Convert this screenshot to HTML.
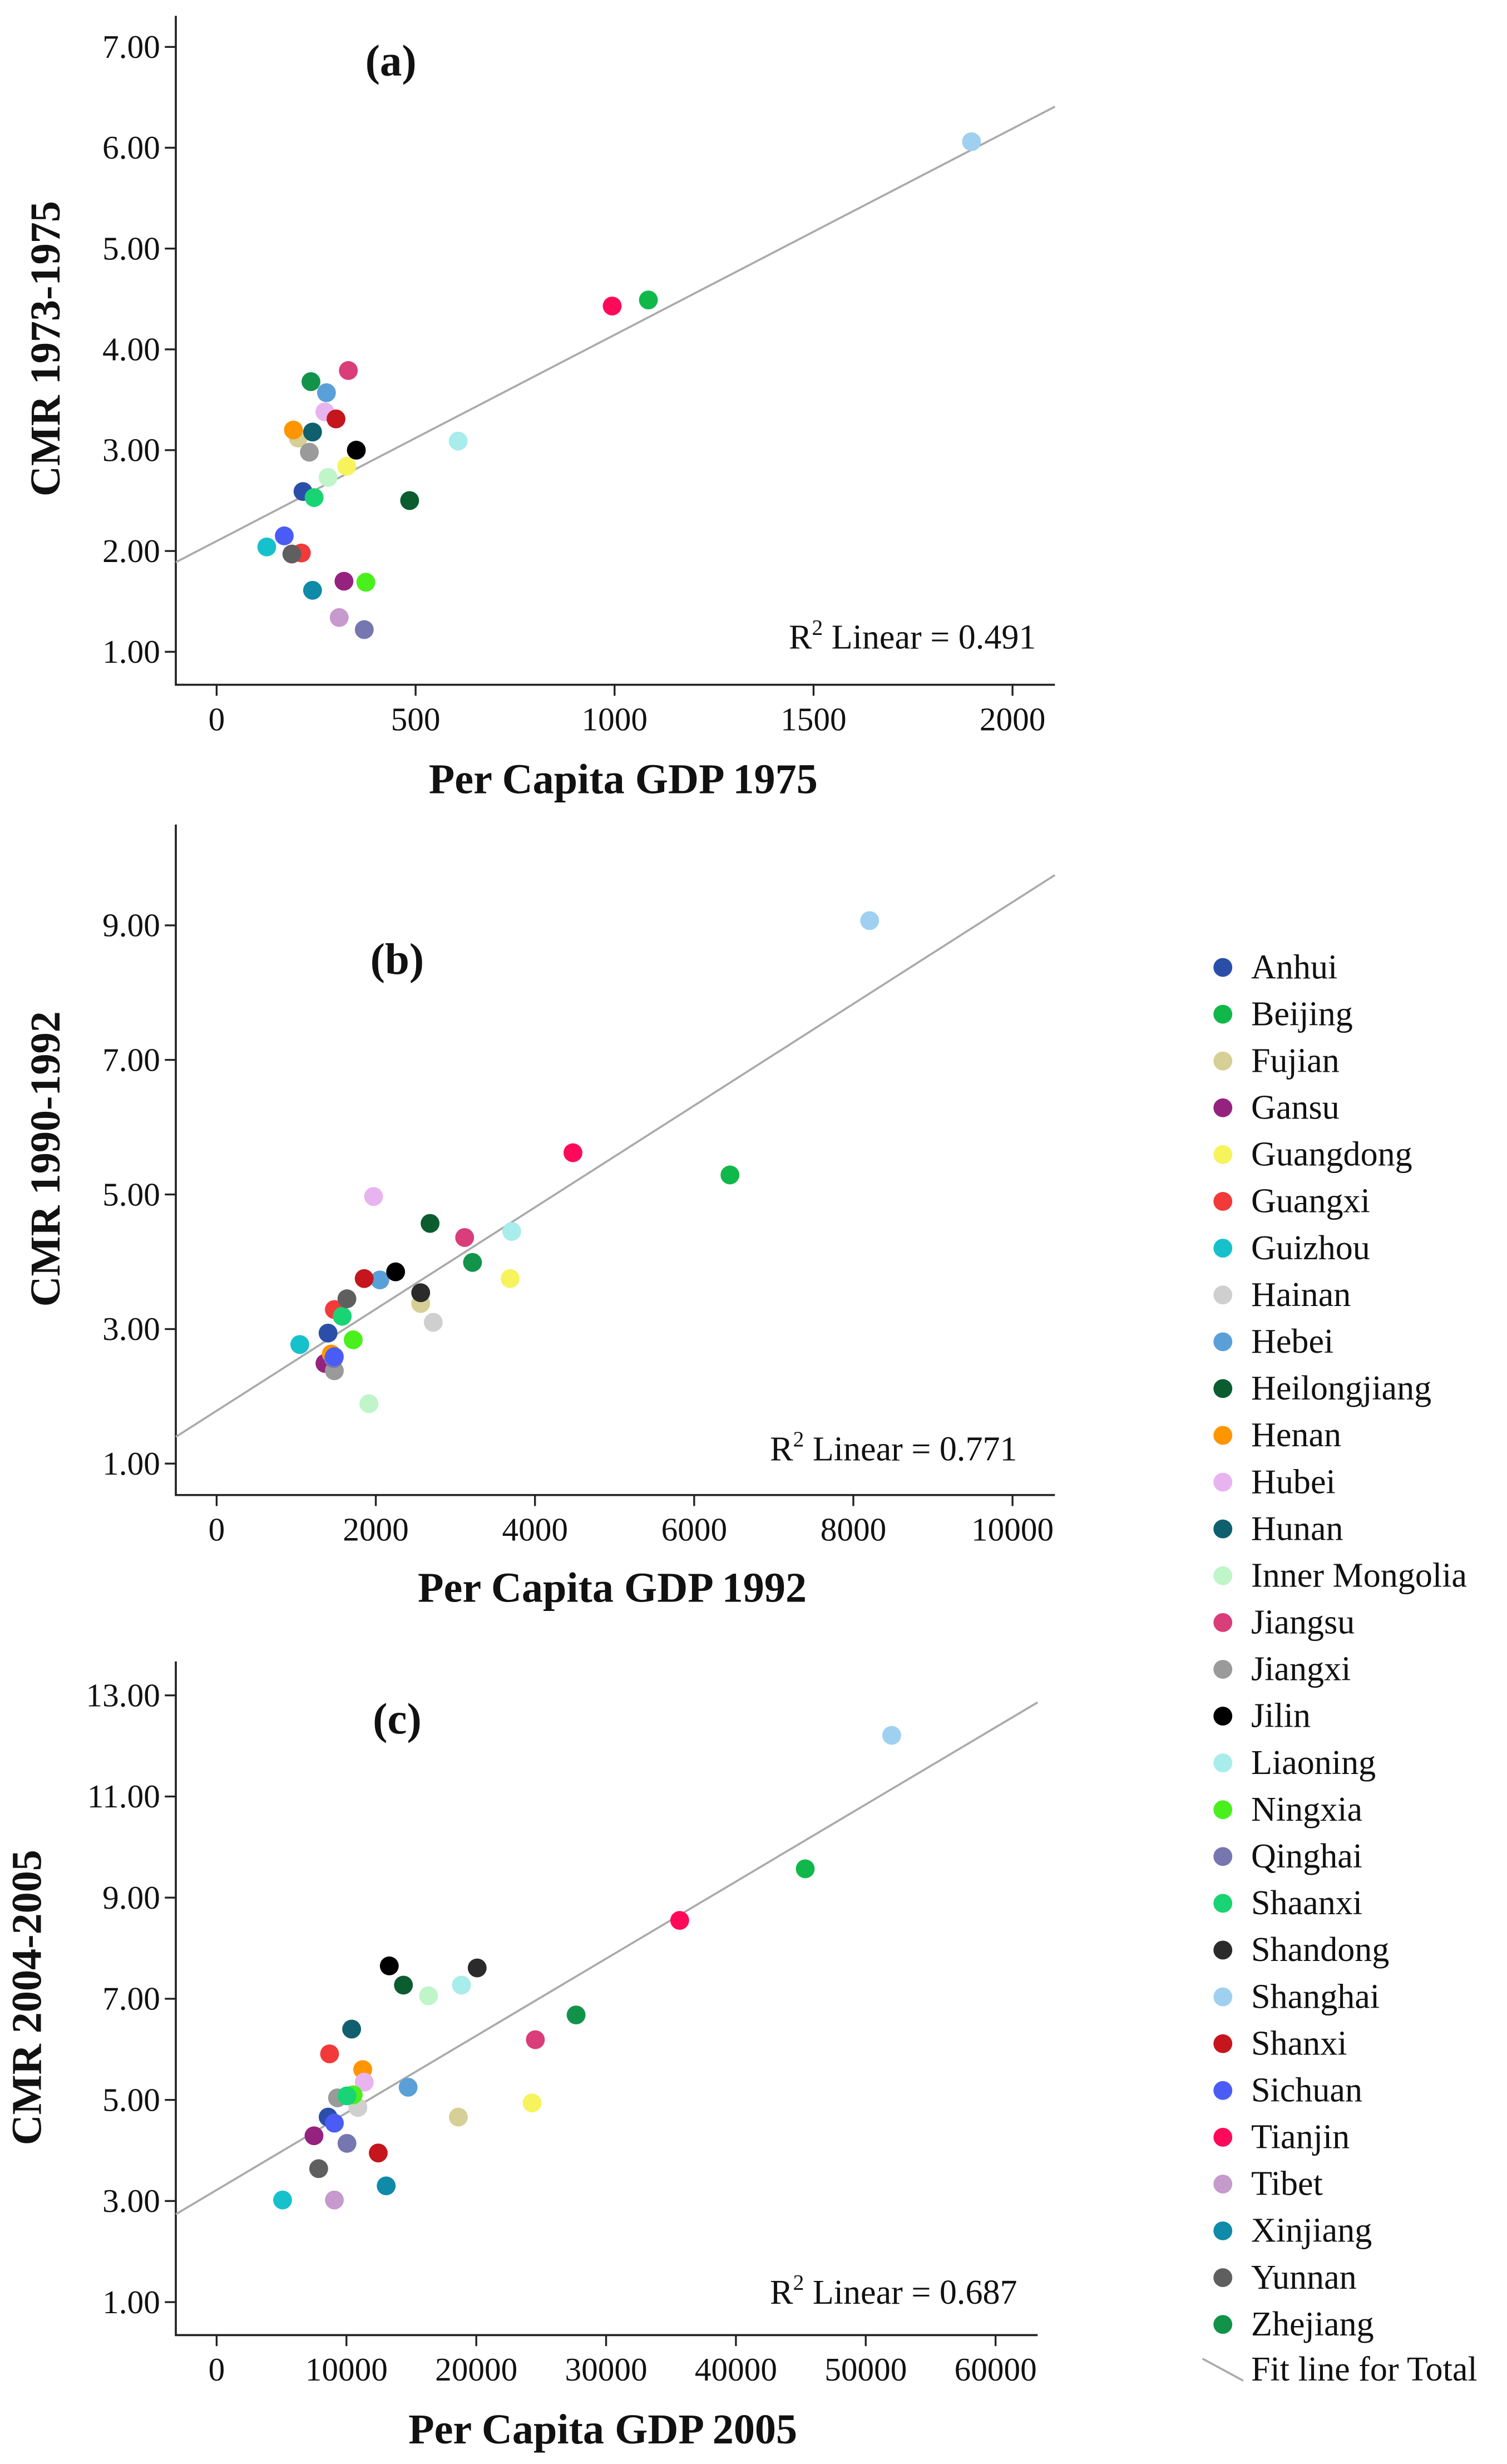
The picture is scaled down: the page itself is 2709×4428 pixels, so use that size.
<!DOCTYPE html>
<html><head><meta charset="utf-8"><style>
html,body{margin:0;padding:0;background:#fff;}
svg{display:block;font-family:"Liberation Serif",serif;}
</style></head><body>
<svg id="fig" xmlns="http://www.w3.org/2000/svg" width="2709" height="4428" viewBox="0 0 960 1569">
<rect width="960" height="1569" fill="#fff"/>
</svg>
<script>
const provinces = ["Anhui","Beijing","Fujian","Gansu","Guangdong","Guangxi","Guizhou","Hainan","Hebei","Heilongjiang","Henan","Hubei","Hunan","Inner Mongolia","Jiangsu","Jiangxi","Jilin","Liaoning","Ningxia","Qinghai","Shaanxi","Shandong","Shanghai","Shanxi","Sichuan","Tianjin","Tibet","Xinjiang","Yunnan","Zhejiang"];
const colors = ["#2b4fa8","#10b84a","#d6cf96","#96227f","#f7f35c","#f23a3a","#17c1cc","#cfcfcf","#5aa0d8","#0b5c2f","#ff9500","#e8b4f0","#0f5f6e","#bff5c8","#d93d7a","#9a9a9a","#000000","#a8ecec","#4af01c","#7677b0","#18d474","#2b2b2b","#9fd0f0","#c4161c","#4a5cf5","#ff0a5a","#c69acc","#0f8aa8","#5f5f5f","#11944a"];
const gdpA = [217,1085,205,320,327,213,126,null,276,485,193,272,241,280,331,233,351,607,375,371,245,null,1897,300,170,994,308,241,189,237];
const cmrA = [2.59,4.49,3.12,1.70,2.84,1.98,2.04,null,3.57,2.50,3.20,3.38,3.18,2.73,3.79,2.98,3.00,3.09,1.69,1.22,2.53,null,6.06,3.31,2.15,4.43,1.34,1.61,1.97,3.68];
const gdpB = [1400,6450,2564,1361,3688,1479,1045,2722,2051,2682,1440,1972,null,1913,3116,1479,2249,3708,1716,1470,1578,2564,8205,1854,1479,4477,null,null,1637,3215];
const cmrB = [2.94,5.29,3.38,2.49,3.75,3.29,2.77,3.10,3.73,4.57,2.63,4.97,null,1.89,4.36,2.38,3.85,4.45,2.84,2.56,3.19,3.54,9.07,3.75,2.59,5.62,null,null,3.45,3.99];
const gdpC = [8590,45340,18620,7500,24300,8700,5080,10880,14750,14390,11250,11370,10400,16320,24550,9310,13300,18860,10520,10040,10040,20070,52000,12450,9070,35670,9070,13060,7860,27690];
const cmrC = [4.66,9.57,4.66,4.29,4.94,5.91,3.02,4.85,5.25,7.27,5.60,5.35,6.40,7.06,6.19,5.04,7.65,7.27,5.10,4.14,5.08,7.61,12.21,3.95,4.54,8.55,3.02,3.30,3.64,6.68];
const ticksAx = ["0","500","1000","1500","2000"], ticksAy=["1.00","2.00","3.00","4.00","5.00","6.00","7.00"];
const ticksBx = ["0","2000","4000","6000","8000","10000"], ticksBy=["1.00","3.00","5.00","7.00","9.00"];
const ticksCx = ["0","10000","20000","30000","40000","50000","60000"], ticksCy=["1.00","3.00","5.00","7.00","9.00","11.00","13.00"];
const fitA=[2.098,0.002046], fitB=[1.785,0.000756], fitC=[3.218,0.0001525];
const r2 = ["0.491","0.771","0.687"];

const NS="http://www.w3.org/2000/svg", svg=document.getElementById('fig');
function el(tag,attrs,parent,text){const e=document.createElementNS(NS,tag);for(const k in attrs)e.setAttribute(k,attrs[k]);if(text!==undefined)e.textContent=text;(parent||svg).appendChild(e);return e;}

const panels=[
 {id:'a',gx:gdpA,gy:cmrA,tx:ticksAx,ty:ticksAy,fit:fitA,x0:138,xpu:126.75/500,y1val:1,y1:415,ypu:64.2,top:10,bot:436,right:672,title:"(a)",tY:48,xt:"Per Capita GDP 1975",yt:"CMR 1973-1975",xtY:505,ytX:38,ytY:222,r2Y:413,r2X:660},
 {id:'b',gx:gdpB,gy:cmrB,tx:ticksBx,ty:ticksBy,fit:fitB,x0:138,xpu:50.7/1000,y1val:1,y1:932,ypu:42.85,top:525,bot:952,right:672,title:"(b)",tY:620,xt:"Per Capita GDP 1992",yt:"CMR 1990-1992",xtY:1020,ytX:38,ytY:738,r2Y:930,r2X:648},
 {id:'c',gx:gdpC,gy:cmrC,tx:ticksCx,ty:ticksCy,fit:fitC,x0:138,xpu:82.7/10000,y1val:1,y1:1466,ypu:32.2,top:1058,bot:1487,right:661,title:"(c)",tY:1104,xt:"Per Capita GDP 2005",yt:"CMR 2004-2005",xtY:1556,ytX:26,ytY:1272,r2Y:1467,r2X:648}
];
panels.forEach(p=>{
 const g=el('g',{});
 
 
 const X=v=>p.x0+v*p.xpu, Y=v=>p.y1-(v-p.y1val)*p.ypu;
 const ax=el('path',{d:`M112 ${p.top} V${p.bot} H${p.right}`,fill:'none',stroke:'#222','stroke-width':1.3},g);
 
 p.ty.forEach(t=>{const y=Y(parseFloat(t));
  el('line',{x1:105,x2:112,y1:y,y2:y,stroke:'#222','stroke-width':1.2},g);
  const tt=el('text',{x:102,y:y+7,'text-anchor':'end','font-size':21,fill:'#111'},g,t);
  });
 p.tx.forEach(t=>{const x=X(parseFloat(t));
  el('line',{x1:x,x2:x,y1:p.bot,y2:p.bot+7,stroke:'#222','stroke-width':1.2},g);
  const tt=el('text',{x:x,y:p.bot+29,'text-anchor':'middle','font-size':21,fill:'#111'},g,t);
  });
 const xa=(112-p.x0)/p.xpu, xb=(p.right-p.x0)/p.xpu;
 const fl=el('line',{x1:X(xa),y1:Y(p.fit[0]+p.fit[1]*xa),x2:X(xb),y2:Y(p.fit[0]+p.fit[1]*xb),stroke:'#aaa','stroke-width':1.3},g);
 
 p.gx.forEach((v,i)=>{if(v===null||p.gy[i]===null)return;
  const c=el('circle',{cx:X(v),cy:Y(p.gy[i]),r:6,fill:colors[i]},g);
  
  });
 const ti=el('text',{x:p.id==='a'?249:253,y:p.tY,'text-anchor':'middle','font-size':28,'font-weight':'bold',fill:'#111'},g,p.title);
 
 const xt=el('text',{x:p.id==='c'?384:(p.id==='b'?390:397),y:p.xtY,'text-anchor':'middle','font-size':27,'font-weight':'bold',fill:'#111'},g,p.xt);
 
 const yt=el('text',{x:0,y:0,transform:`translate(${p.ytX} ${p.ytY}) rotate(-90)`,'text-anchor':'middle','font-size':27,'font-weight':'bold',fill:'#111'},g,p.yt);
 
 const r=el('text',{x:p.r2X,y:p.r2Y,'text-anchor':'end','font-size':22,fill:'#111'},g);
 
 el('tspan',{},r,'R');el('tspan',{dy:-9,'font-size':14},r,'2');el('tspan',{dy:9},r,' Linear = '+r2[['a','b','c'].indexOf(p.id)]);
});
const lg=el('g',{});


provinces.forEach((n,i)=>{const y=616+i*29.8;
 const e=el('g',{},lg);
 
 
 el('circle',{cx:779,cy:y,r:6,fill:colors[i]},e);
 el('text',{x:797,y:y+7,'font-size':22,fill:'#111'},e,n);});
const fe=el('g',{},lg);


el('line',{x1:766,y1:1502,x2:792,y2:1516,stroke:'#aaa','stroke-width':1.3},fe);
el('text',{x:797,y:1516,'font-size':22,fill:'#111'},fe,'Fit line for Total');
</script>
</body></html>
